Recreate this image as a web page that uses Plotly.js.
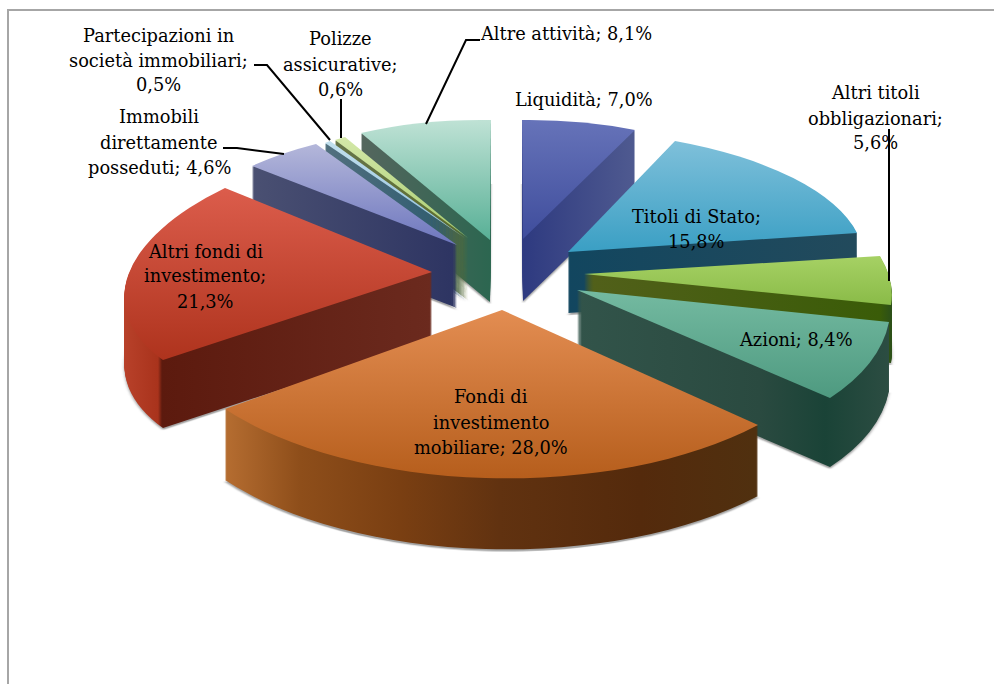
<!DOCTYPE html>
<html><head><meta charset="utf-8">
<script src="https://cdn.plot.ly/plotly-3.0.0.min.js"></script>
<style>html,body{margin:0;padding:0;background:#fff}#chart{width:994px;height:684px}</style>
</head><body><div id="chart"></div>
<script>
// ---- data ----
const categories = ["Liquidità","Titoli di Stato","Altri titoli obbligazionari","Azioni","Fondi di investimento mobiliare","Altri fondi di investimento","Immobili direttamente posseduti","Partecipazioni in società immobiliari","Polizze assicurative","Altre attività"];
const values = [7.0,15.8,5.6,8.4,28.0,21.3,4.6,0.5,0.6,8.1];
const labelTexts = ["Liquidità; 7,0%","Titoli di Stato;<br>15,8%","Altri titoli<br>obbligazionari;<br>5,6%","Azioni; 8,4%","Fondi di<br>investimento<br>mobiliare; 28,0%","Altri fondi di<br>investimento;<br>21,3%","Immobili<br>direttamente<br>posseduti; 4,6%","Partecipazioni in<br>società immobiliari;<br>0,5%","Polizze<br>assicurative;<br>0,6%","Altre attività; 8,1%"];

// ---- styling and layout ----
const labelPos = [[584,99],[696,229],[875,118],[796,339],[491,422],[205,276],[159,142],[158,60],[340,64],[566,33]];
const LINE_PITCH = 25;
const LABEL_FONT = {family:"DejaVu Serif, serif", size:17.8, color:"#000"};
const topColors = [["#6673b9","#3f4d9c"],["#7fc0da","#3a9fc4"],["#a6d164","#8abb48"],["#74baa1","#4e9a80"],["#e38d52","#b45c1a"],["#dc5d4c","#ae331d"],["#b4b7da","#6d76be"],["#c2e0ee","#8fbfdc"],["#d4e8a8","#a8cc70"],["#bfe2d5","#58b096"]];
const topRange = [[120,239],[141,252],[256,305],[290,398],[310,485],[187,361],[144,245],[140,238],[137,238],[120,240]];
const sideStops = [
 [[523,"#2e3a80"],[635,"#4f5a90"]],
 [[568,"#12465f"],[857,"#224a5c"]],
 [[584,"#52601a"],[880,"#3a5c08"],[891,"#2c5018"]],
 [[577,"#32544a"],[760,"#2a4a40"],[825,"#1a4337"],[889,"#2c4d42"]],
 [[228,"#b46c30"],[300,"#8e4e1a"],[400,"#7a3f12"],[500,"#613210"],[640,"#542a0c"],[755,"#50300f"]],
 [[124,"#b8412a"],[158,"#a9331c"],[162,"#5c1a0e"],[432,"#6b2a1e"]],
 [[252,"#4a5072"],[457,"#2d3462"]],
 [[325,"#52707e"],[465,"#28586e"]],
 [[335,"#66754a"],[468,"#5c6c2a"]],
 [[361,"#55665e"],[490,"#2c6650"]]
];
// top face corners of each slice on the page: tip, start of arc, end of arc, thickness
const faces = [
 [[523,239],[522,120],[635,130],62],
 [[568,252],[675,141],[857,233],61],
 [[584,274],[880,256],[891,305],58],
 [[577,290],[889,322],[830,398],69],
 [[502,310],[758,425],[225,409],71],
 [[432,272],[163,360],[225,188],68],
 [[457,245],[252,166],[316,144],63],
 [[465,238],[325,143],[330,141],62],
 [[468,238],[335,140],[345,137],62],
 [[490,240],[361,133],[491,120],62]
];
const drawOrder = [9,8,7,6,5,0,1,2,3,4];
const STEP = 1;

const clear = values.map(()=> "rgba(0,0,0,0)");
const traces = [], meta = [];
function addLayer(slice, d, kind){
  const colors = clear.slice(); colors[slice] = "#888";
  traces.push({type:"pie", labels:categories, values:values, sort:false, direction:"clockwise", rotation:0,
    marker:{colors:colors, line:{width:0}}, textinfo:"none", hoverinfo:"skip", showlegend:false,
    domain:{x:[0,1],y:[0,1]}});
  meta.push({slice:slice, d:d, kind:kind});
}
drawOrder.forEach(s=>{
  const depth = faces[s][3];
  addLayer(s, depth+2, "shadow");
  for(let d=depth; d>0; d-=STEP) addLayer(s, d, "side");
  addLayer(s, 0, "top");
});

const annotations = [];
labelTexts.forEach((t,i)=>{
  const lines=t.split("<br>");
  lines.forEach((ln,k)=>{
    const y=labelPos[i][1]+(k-(lines.length-1)/2)*LINE_PITCH;
    annotations.push({text:ln, x:labelPos[i][0]/994, y:1-y/684, xref:"paper", yref:"paper",
      xanchor:"center", yanchor:"middle", align:"center", showarrow:false, font:LABEL_FONT});
  });
});

function px(x,y){return (x/994).toFixed(5)+","+(1-y/684).toFixed(5);}
function pathOf(pts){return "M"+pts.map(p=>px(p[0],p[1]).replace(",", " ")).join(" L");}
const leaders = [
 [[480,40],[466,40],[426,124]],
 [[254,65],[267,65],[330,140]],
 [[341,99],[341,138]],
 [[223,148],[237,148],[284,154]],
 [[889,129],[889,281]]
];
const shapes = leaders.map(l=>({type:"path", xref:"paper", yref:"paper", path:pathOf(l), line:{color:"#000",width:2}}));
shapes.push({type:"path", xref:"paper", yref:"paper", path:pathOf([[8,684],[8,10],[994,10]]), line:{color:"#a6a6a6",width:2}});

const layout = {width:994, height:684, margin:{l:0,r:0,t:0,b:0,pad:0}, paper_bgcolor:"#fff", showlegend:false,
  annotations:annotations, shapes:shapes};

Plotly.newPlot("chart", traces, layout, {displayModeBar:false, staticPlot:true}).then(gd=>{
  const svg = gd.querySelector(".main-svg");
  const NS = "http://www.w3.org/2000/svg";
  let defs = svg.querySelector("defs");
  const blur = document.createElementNS(NS,"filter"); blur.setAttribute("id","sliceShadow");
  blur.setAttribute("x","-20%");blur.setAttribute("y","-20%");blur.setAttribute("width","140%");blur.setAttribute("height","140%");
  const fe = document.createElementNS(NS,"feGaussianBlur"); fe.setAttribute("stdDeviation","1.6"); blur.appendChild(fe); defs.appendChild(blur);

  const total = values.reduce((a,b)=>a+b,0);
  let acc = 0; const ang = values.map(v=>{const a0=acc/total*2*Math.PI; acc+=v; return [a0, acc/total*2*Math.PI];});
  const matrixOf = (s,r,cx,cy,d)=>{
    const [T,S,E] = faces[s];
    const u1=[r*Math.sin(ang[s][0]),-r*Math.cos(ang[s][0])], u2=[r*Math.sin(ang[s][1]),-r*Math.cos(ang[s][1])];
    const a=[S[0]-T[0],S[1]-T[1]], b=[E[0]-T[0],E[1]-T[1]];
    const det=u1[0]*u2[1]-u2[0]*u1[1];
    const i00=u2[1]/det,i01=-u2[0]/det,i10=-u1[1]/det,i11=u1[0]/det;
    const m00=a[0]*i00+b[0]*i10,m01=a[0]*i01+b[0]*i11,m10=a[1]*i00+b[1]*i10,m11=a[1]*i01+b[1]*i11;
    return [m00,m10,m01,m11,T[0]-m00*cx-m01*cy,T[1]+d-m10*cx-m11*cy];
  };
  const made = {};
  function gradient(id, path, horiz, stops, range){
    if(made[id]) return id; made[id]=1;
    const g=document.createElementNS(NS,"linearGradient"); g.setAttribute("id",id);
    g.setAttribute("gradientUnits","userSpaceOnUse");
    const inv=path.getCTM().inverse();
    g.setAttribute("gradientTransform",`matrix(${inv.a},${inv.b},${inv.c},${inv.d},${inv.e},${inv.f})`);
    if(horiz){const x0=stops[0][0],x1=stops[stops.length-1][0];
      g.setAttribute("x1",x0);g.setAttribute("x2",x1);g.setAttribute("y1",0);g.setAttribute("y2",0);
      stops.forEach(st=>{const e=document.createElementNS(NS,"stop");e.setAttribute("offset",(st[0]-x0)/(x1-x0));e.setAttribute("stop-color",st[1]);g.appendChild(e);});
    } else {
      g.setAttribute("x1",0);g.setAttribute("x2",0);g.setAttribute("y1",range[0]);g.setAttribute("y2",range[1]);
      stops.forEach((c,i)=>{const e=document.createElementNS(NS,"stop");e.setAttribute("offset",i);e.setAttribute("stop-color",c);g.appendChild(e);});
    }
    defs.appendChild(g); return id;
  }
  const groups = gd.querySelectorAll(".pielayer .trace");
  groups.forEach((tg,i)=>{
    const m=meta[i], cd=gd.calcdata[i][0];
    const M=matrixOf(m.slice,cd.r,cd.cx,cd.cy,m.d);
    tg.setAttribute("transform",`matrix(${M.join(",")})`);
    const sl=tg.querySelectorAll(".slice")[m.slice];
    const p=sl.querySelector("path");
    if(m.kind==="shadow"){p.style.fill="#555";p.style.fillOpacity=.55;tg.setAttribute("filter","url(#sliceShadow)");}
    else if(m.kind==="side"){p.style.fill=`url(#${gradient("side"+m.slice,p,true,sideStops[m.slice])})`;}
    else {p.style.fill=`url(#${gradient("top"+m.slice,p,false,topColors[m.slice],topRange[m.slice])})`;}
  });
});
</script></body></html>
